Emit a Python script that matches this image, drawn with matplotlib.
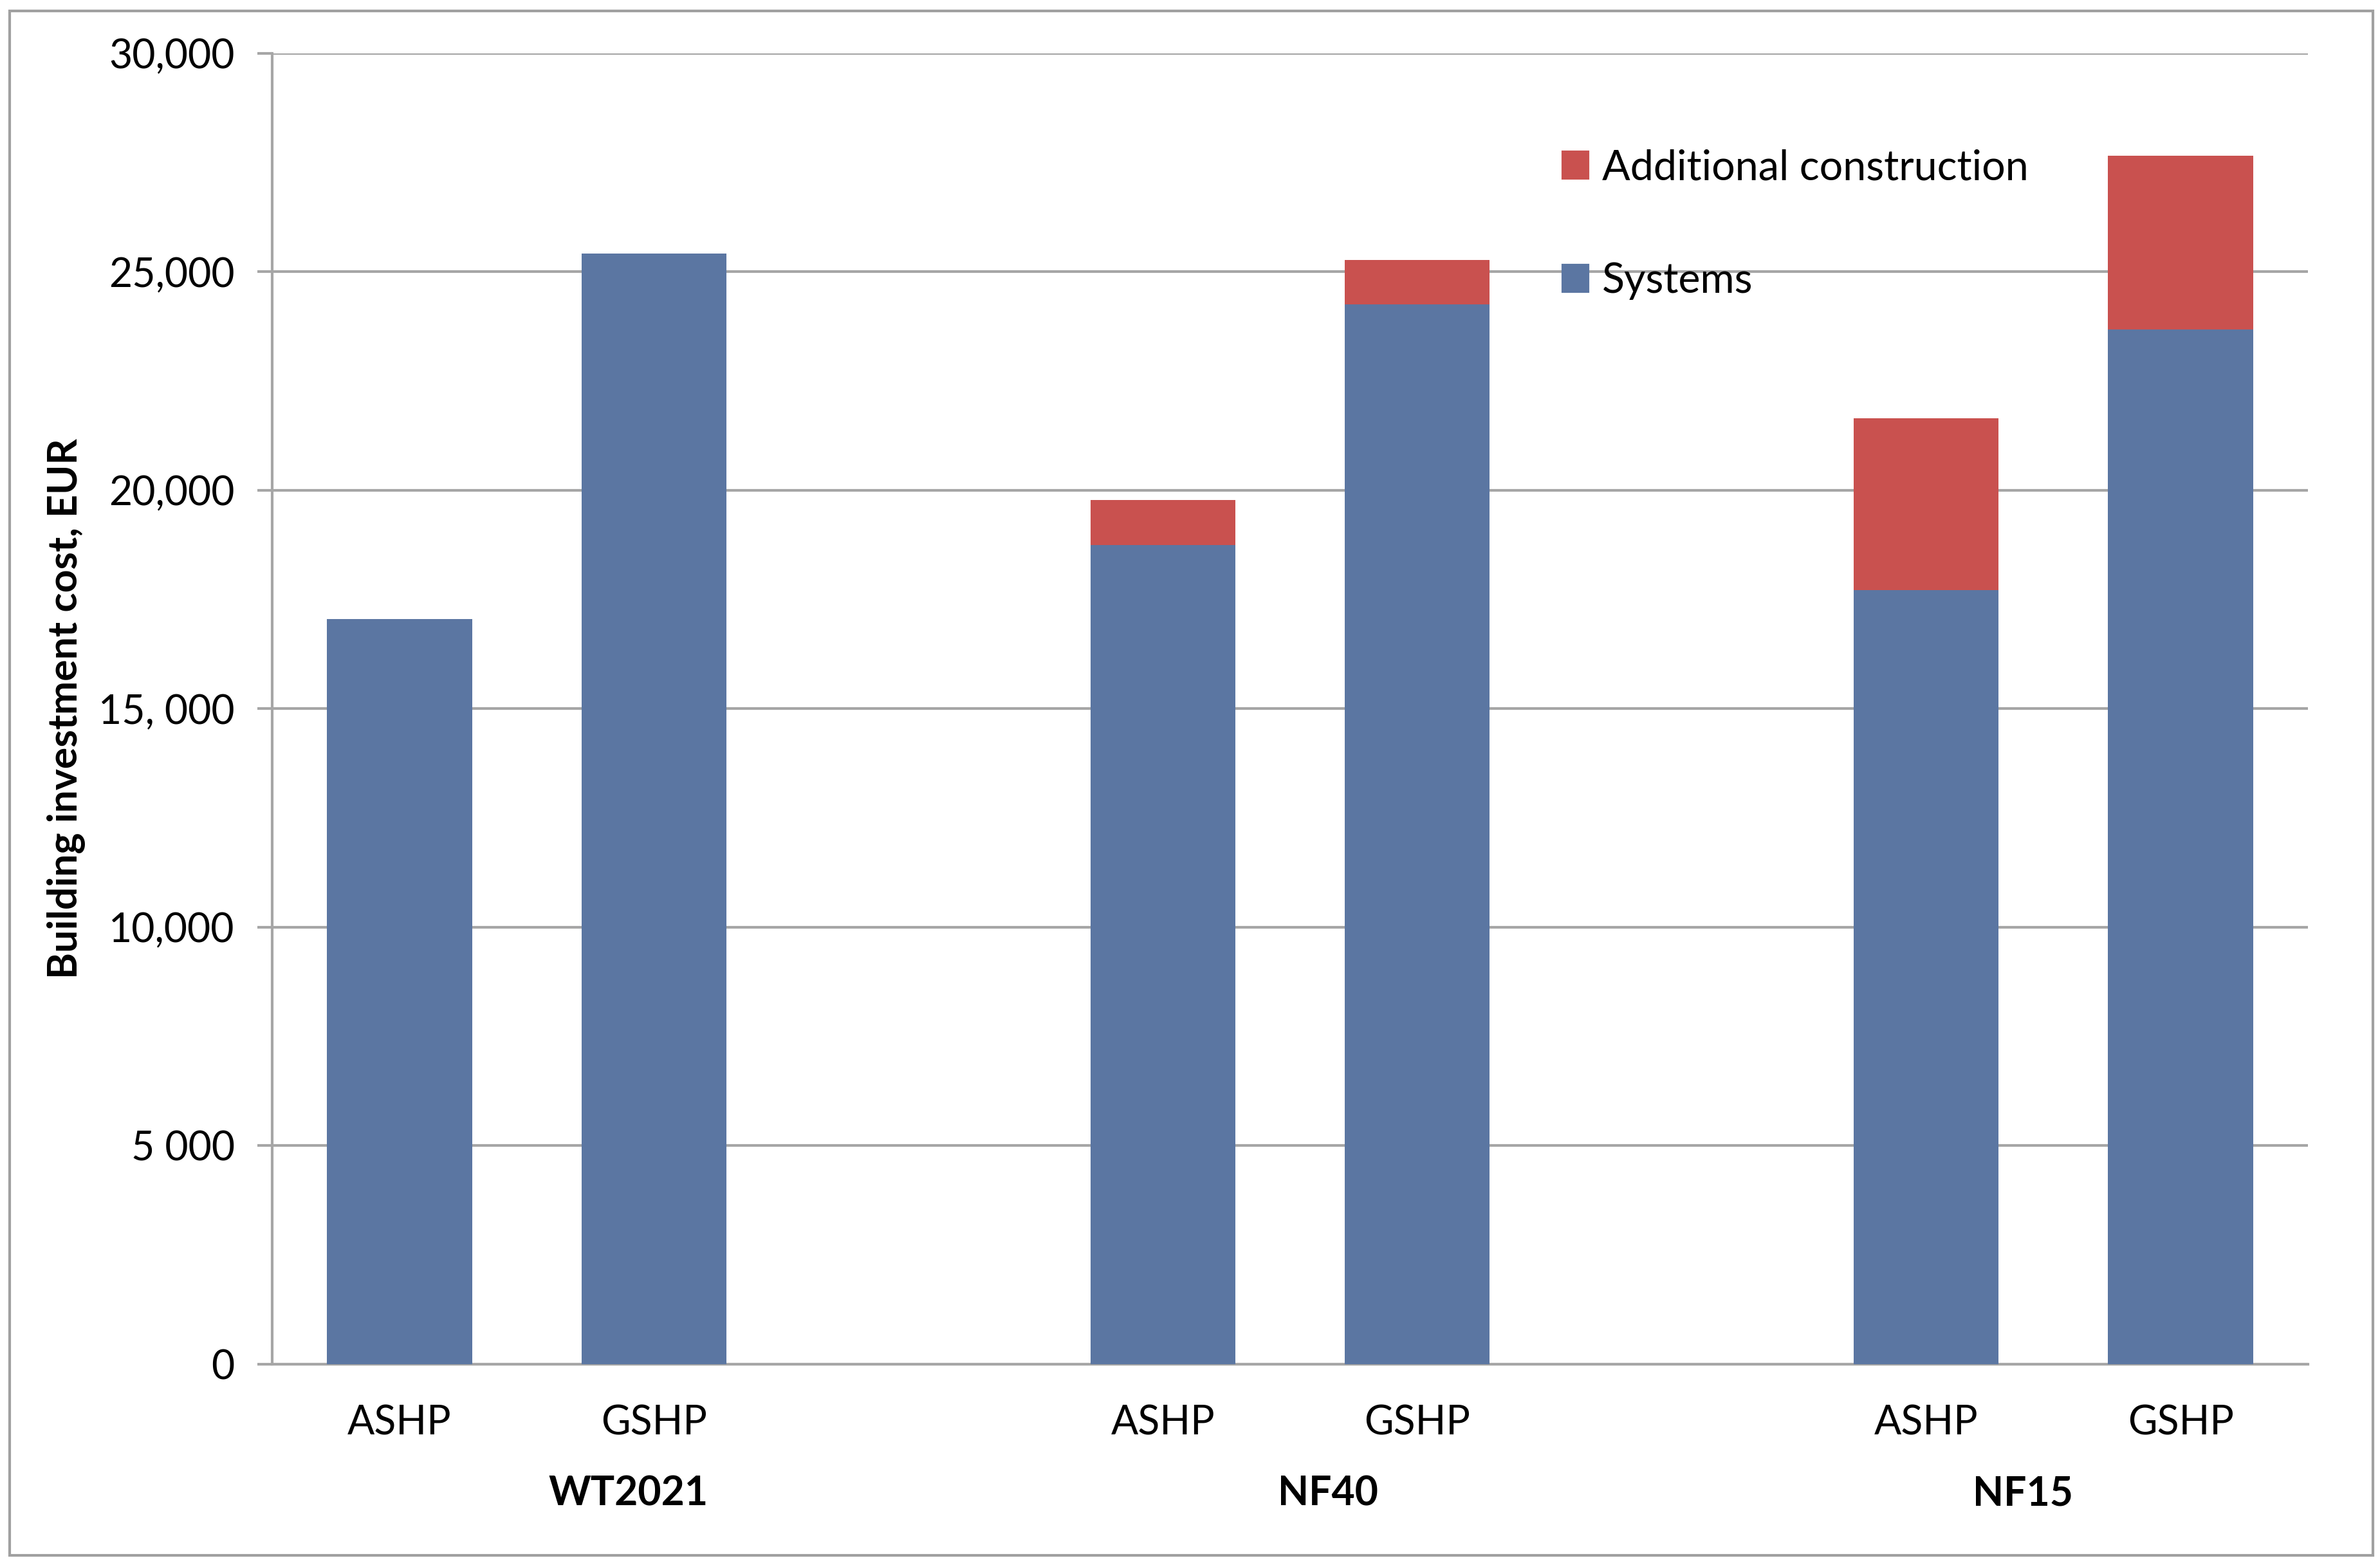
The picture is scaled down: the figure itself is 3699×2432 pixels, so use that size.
import matplotlib
matplotlib.use("Agg")
import matplotlib.pyplot as plt
from matplotlib.patches import Rectangle, Patch

# building investment cost per case, EUR
groups = ['WT2021', 'NF40', 'NF15']
techs = ['ASHP', 'GSHP']
systems = [17050, 25420, 18750, 24250, 17720, 23680]
additional = [0, 0, 1030, 1020, 3930, 3970]

yticks = [0, 5000, 10000, 15000, 20000, 25000, 30000]
ytick_labels = ['0', '5 000', '10,000', '15, 000', '20,000', '25,000', '30,000']

BLUE = '#5b76a2'
RED = '#c9514f'
GRID = '#a6a6a6'

plt.rcParams['font.family'] = ['Lato', 'DejaVu Sans']
plt.rcParams['font.size'] = 15

fig = plt.figure(figsize=(3699 / 300, 2432 / 300), dpi=300)
ax = fig.add_axes([0.1144, 0.1283, 0.9697 - 0.1144, 0.9659 - 0.1283])

# two bars per group, one empty slot between groups
pos = []
for i in range(len(groups)):
    for j in range(len(techs)):
        pos.append(3 * i + j)

w = 0.57
ax.bar(pos, systems, width=w, color=BLUE, zorder=3, label='Systems')
ax.bar(pos, additional, width=w, bottom=systems, color=RED, zorder=3,
       label='Additional construction')

ax.set_xlim(-0.5, 7.5)
ax.set_ylim(0, 30000)
ax.set_yticks(yticks)
ax.set_yticklabels(ytick_labels)
ax.yaxis.grid(True, color=GRID, linewidth=1.0, zorder=0)
ax.set_axisbelow(True)

for s in ['top', 'right']:
    ax.spines[s].set_visible(False)
for s in ['left', 'bottom']:
    ax.spines[s].set_color(GRID)
    ax.spines[s].set_linewidth(1.0)

ax.tick_params(axis='y', length=5.5, width=1.0, color=GRID, pad=8.5)
ax.set_xticks(pos)
ax.set_xticklabels(techs * len(groups))
ax.tick_params(axis='x', length=0, pad=15)

# group names sit where the original category axis put them
group_x = [0.9, 3.65, 6.38]
for gx, g in zip(group_x, groups):
    ax.text(gx, -0.099, g, transform=ax.get_xaxis_transform(),
            ha='center', va='center', fontweight='bold')

ax.set_ylabel('Building investment cost, EUR', fontweight='bold')
ax.yaxis.set_label_coords(-0.092, 0.5)

handles = [Patch(color=RED), Patch(color=BLUE)]
ax.legend(handles, ['Additional construction', 'Systems'], loc='upper left',
          bbox_to_anchor=(0.634, 0.927), frameon=False, handlelength=0.6,
          handleheight=0.6, handletextpad=0.35, labelspacing=1.8,
          borderpad=0, borderaxespad=0, fontsize=15.5)

# thin frame round the whole chart
fig.patches.append(Rectangle((0.004, 0.006), 0.993, 0.987, transform=fig.transFigure,
                             fill=False, edgecolor='#a0a0a0', linewidth=1.0))

fig.savefig('out.png', dpi=300)
